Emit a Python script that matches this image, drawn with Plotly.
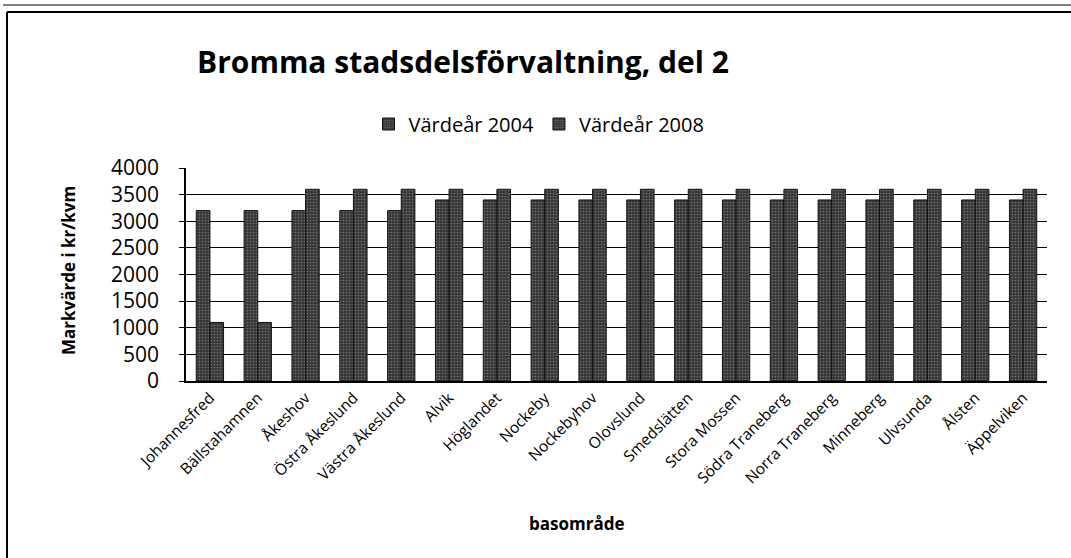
import plotly.graph_objects as go

categories = ["Johannesfred", "Bällstahamnen", "Åkeshov", "Östra Åkeslund", "Västra Åkeslund",
              "Alvik", "Höglandet", "Nockeby", "Nockebyhov", "Olovslund", "Smedslätten",
              "Stora Mossen", "Södra Traneberg", "Norra Traneberg", "Minneberg", "Ulvsunda",
              "Ålsten", "Äppelviken"]
values_2004 = [3200, 3200, 3200, 3200, 3200, 3400, 3400, 3400, 3400, 3400, 3400,
               3400, 3400, 3400, 3400, 3400, 3400, 3400]
values_2008 = [1100, 1100, 3600, 3600, 3600, 3600, 3600, 3600, 3600, 3600, 3600,
               3600, 3600, 3600, 3600, 3600, 3600, 3600]
series_names = ["Värdeår 2004", "Värdeår 2008"]
y_ticks = [0, 500, 1000, 1500, 2000, 2500, 3000, 3500, 4000]

W, H = 1071, 558
L, R, T, B = 186, 1047, 168, 381
FONT = "Open Sans"

def px(x):
    return (x - L) / (R - L)

def py(y):
    return (B - y) / (B - T)

fig = go.Figure()
for name, vals in zip(series_names, [values_2004, values_2008]):
    fig.add_trace(go.Bar(
        x=categories, y=vals, name=name,
        marker=dict(color="#363636", line=dict(color="#111111", width=1),
                    pattern=dict(shape=".", fgcolor="#b0b0b0", bgcolor="#363636",
                                 size=3, solidity=0.25, fillmode="overlay")),
    ))

fig.update_layout(
    width=W, height=H,
    margin=dict(l=L, r=W - R, t=T, b=H - B, autoexpand=False),
    paper_bgcolor="white", plot_bgcolor="white",
    font=dict(family=FONT, color="black"),
    barmode="group", bargap=0.43, bargroupgap=0,
    showlegend=True,
    legend=dict(orientation="h", x=px(539), xanchor="center", y=py(124), yanchor="middle",
                font=dict(size=20, family=FONT), itemwidth=30, traceorder="normal"),
    title=dict(text="<b>Bromma stadsdelsförvaltning, del 2</b>", x=463 / W, xanchor="center",
               y=1 - 62 / H, yanchor="middle", font=dict(size=30, family=FONT)),
)

fig.update_xaxes(
    tickangle=-45, tickfont=dict(size=15.5, family=FONT), showline=True, linecolor="black",
    linewidth=1.5, showgrid=False, ticks="", automargin=False,
)
fig.update_yaxes(
    range=[0, 4000], tickvals=y_ticks, tickfont=dict(size=21, family=FONT),
    showline=True, linecolor="black", linewidth=1.5, showgrid=True, gridcolor="black",
    gridwidth=1, ticks="outside", ticklen=5, tickcolor="black", ticklabelstandoff=16,
    zeroline=False, automargin=False,
)

# axis titles
fig.add_annotation(text="<b>Markvärde i kr/kvm</b>", xref="paper", yref="paper",
                   x=px(68), y=py(270), textangle=-90, showarrow=False,
                   font=dict(size=17, family=FONT), xanchor="center", yanchor="middle")
fig.add_annotation(text="<b>basområde</b>", xref="paper", yref="paper",
                   x=px(576), y=py(523), showarrow=False,
                   font=dict(size=17, family=FONT), xanchor="center", yanchor="middle")

# scanned page frame
fig.add_shape(type="line", xref="paper", yref="paper", x0=px(3), x1=px(W), y0=py(5), y1=py(5),
              line=dict(color="#555555", width=1.5))
fig.add_shape(type="line", xref="paper", yref="paper", x0=px(7), x1=px(W), y0=py(12), y1=py(12),
              line=dict(color="black", width=2))
fig.add_shape(type="line", xref="paper", yref="paper", x0=px(7), x1=px(7), y0=py(12), y1=py(H),
              line=dict(color="black", width=2))

fig.write_html("out.html", config={"displayModeBar": False},
               post_script="document.body.style.margin='0';")
